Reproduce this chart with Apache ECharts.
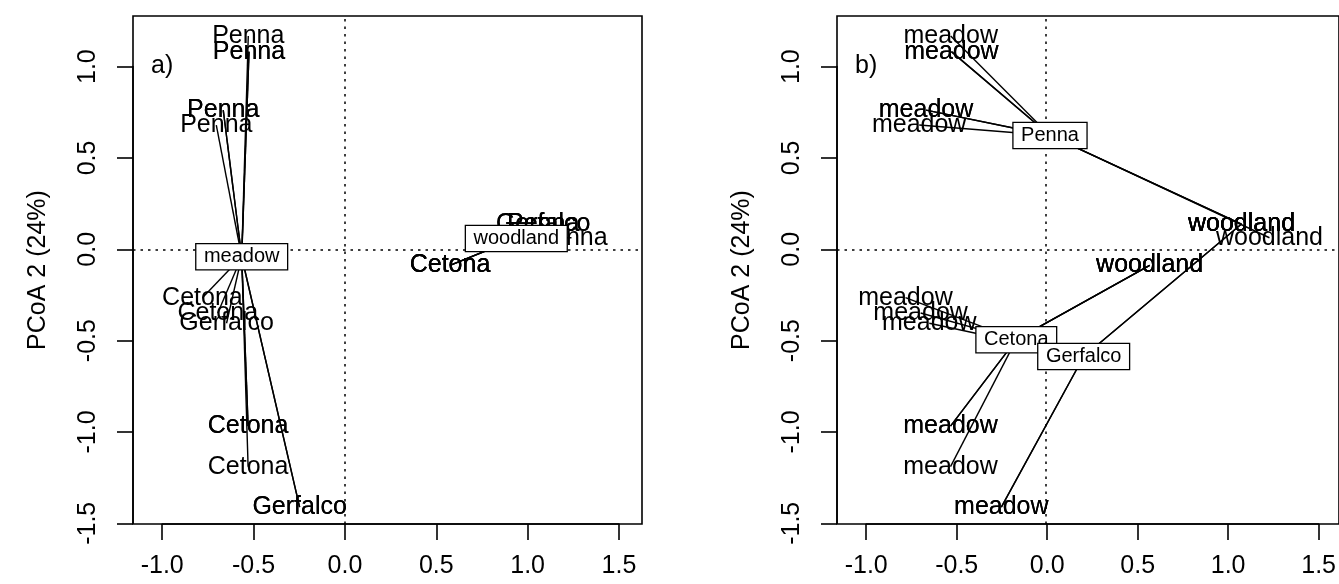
<!DOCTYPE html>
<html><head><meta charset="utf-8">
<script src="https://cdn.jsdelivr.net/npm/echarts@6/dist/echarts.min.js"></script>
<style>html,body{margin:0;padding:0;background:#fff}#c{width:1339px;height:584px}</style>
</head><body><div id="c"></div>
<script>
// ---- data ----
const siteX    = [-0.529,-0.525,-0.525,-0.666,-0.666,-0.704, -0.780,-0.696,-0.530,-0.530,-0.530, -0.648,-0.248,-0.248,
                  0.575,0.575,0.575, 1.085,1.085,1.240, 1.085,1.085];
const siteY    = [1.167,1.082,1.082,0.762,0.762,0.680, -0.265,-0.349,-0.968,-0.968,-1.190, -0.405,-1.412,-1.412,
                  -0.088,-0.088,-0.088, 0.138,0.138,0.063, 0.138,0.138];
const siteName = ['Penna','Penna','Penna','Penna','Penna','Penna','Cetona','Cetona','Cetona','Cetona','Cetona','Gerfalco','Gerfalco','Gerfalco',
                  'Cetona','Cetona','Cetona','Penna','Penna','Penna','Gerfalco','Gerfalco'];
const habitat  = ['meadow','meadow','meadow','meadow','meadow','meadow','meadow','meadow','meadow','meadow','meadow','meadow','meadow','meadow',
                  'woodland','woodland','woodland','woodland','woodland','woodland','woodland','woodland'];
const habitatNames = ['meadow','woodland'];
const habitatCX = [-0.565, 0.938];
const habitatCY = [-0.041, 0.059];
const siteNames = ['Penna','Cetona','Gerfalco'];
const siteCX = [0.022,-0.165,0.209];
const siteCY = [0.623,-0.495,-0.587];
const xTicks = [-1.0,-0.5,0.0,0.5,1.0,1.5];
const yTicks = [-1.5,-1.0,-0.5,0.0,0.5,1.0];
const xlim = [-1.160, 1.626];
const ylim = [-1.504, 1.277];
const yTitle = 'PCoA 2 (24%)';
const panelTags = ['a)','b)'];

// ---- layout ----
const FONT = "'Liberation Sans', Arial, Helvetica, sans-serif";
const panelLeft = [133, 837], T = 16, W = 509, H = 508;
const xr = xlim[1]-xlim[0], yr = ylim[1]-ylim[0];

const grids = [], xAxes = [], yAxes = [], series = [], graphics = [];
const pointIdx = siteX.map((_, i) => i);

panelLeft.forEach((L, p) => {
  const g0 = grids.length;
  // data grid (box)
  grids.push({left: L, top: T, width: W, height: H, show: true, borderColor: '#000', borderWidth: 1.6, backgroundColor: 'transparent'});
  xAxes.push({gridIndex: g0, type: 'value', min: xlim[0], max: xlim[1], show: false});
  yAxes.push({gridIndex: g0, type: 'value', min: ylim[0], max: ylim[1], show: true,
    axisLine: {show: false}, axisTick: {show: false}, axisLabel: {show: false}, splitLine: {show: false},
    name: yTitle, nameLocation: 'middle', nameRotate: 90, nameGap: 82,
    nameTextStyle: {fontSize: 25, color: '#000', fontFamily: FONT}});
  // x tick grid
  const xl = L + (xTicks[0]-xlim[0])/xr*W, xw = (xTicks[xTicks.length-1]-xTicks[0])/xr*W;
  grids.push({left: xl, top: T, width: xw, height: H});
  xAxes.push({gridIndex: g0+1, type: 'value', min: xTicks[0], max: xTicks[xTicks.length-1], interval: 0.5, position: 'bottom',
    axisLine: {show: true, onZero: false, lineStyle: {color: '#000', width: 1.6}},
    axisTick: {show: true, length: 16, lineStyle: {color: '#000', width: 1.6}},
    axisLabel: {show: true, margin: 30, fontSize: 25, color: '#000', fontFamily: FONT, interval: 0,
      formatter: v => xTicks.find(t => Math.abs(t-v) < 1e-9).toFixed(1)},
    splitLine: {show: false}});
  yAxes.push({gridIndex: g0+1, type: 'value', min: 0, max: 1, show: false});
  // y tick grid
  const yt = T + (ylim[1]-yTicks[yTicks.length-1])/yr*H, yh = (yTicks[yTicks.length-1]-yTicks[0])/yr*H;
  grids.push({left: L, top: yt, width: W, height: yh});
  xAxes.push({gridIndex: g0+2, type: 'value', min: 0, max: 1, show: false});
  yAxes.push({gridIndex: g0+2, type: 'value', min: yTicks[0], max: yTicks[yTicks.length-1], interval: 0.5, position: 'left',
    axisLine: {show: true, onZero: false, lineStyle: {color: '#000', width: 1.6}},
    axisTick: {show: true, length: 16, lineStyle: {color: '#000', width: 1.6}},
    axisLabel: {show: true, margin: 32, rotate: 90, fontSize: 25, color: '#000', fontFamily: FONT, interval: 0,
      formatter: v => yTicks.find(t => Math.abs(t-v) < 1e-9).toFixed(1)},
    splitLine: {show: false}});

  // dotted reference lines at 0
  series.push({type: 'lines', coordinateSystem: 'cartesian2d', xAxisIndex: g0, yAxisIndex: g0, z: 1, silent: true,
    lineStyle: {color: '#000', width: 1.5, type: [2.5, 5], opacity: 1},
    data: [{coords: [[0, ylim[0]], [0, ylim[1]]]}, {coords: [[xlim[0], 0], [xlim[1], 0]]}]});

  const labelOf = p === 0 ? siteName : habitat;
  const groupOf = p === 0 ? habitat : siteName;
  const cNames = p === 0 ? habitatNames : siteNames;
  const cX = p === 0 ? habitatCX : siteCX;
  const cY = p === 0 ? habitatCY : siteCY;

  // point labels
  series.push({type: 'scatter', xAxisIndex: g0, yAxisIndex: g0, z: 2, silent: true,
    symbolSize: 0.1, itemStyle: {color: 'rgba(0,0,0,0)', opacity: 1},
    label: {show: true, position: 'inside', formatter: '{b}', fontSize: 25, color: '#000', fontFamily: FONT, opacity: 1},
    data: pointIdx.map(i => ({name: labelOf[i], value: [siteX[i], siteY[i]]}))});

  // spider lines
  series.push({type: 'lines', coordinateSystem: 'cartesian2d', xAxisIndex: g0, yAxisIndex: g0, z: 3, silent: true,
    lineStyle: {color: '#000', width: 1.4, opacity: 1},
    data: pointIdx.map(i => {
      const k = cNames.indexOf(groupOf[i]);
      return {coords: [[cX[k], cY[k]], [siteX[i], siteY[i]]]};
    })});

  // centroid boxes
  cNames.forEach((n, k) => {
    series.push({type: 'scatter', xAxisIndex: g0, yAxisIndex: g0, z: 4 + k, silent: true,
      symbolSize: 0.1, itemStyle: {color: 'rgba(0,0,0,0)', opacity: 1},
      label: {show: true, position: 'inside', formatter: '{b}', fontSize: 20, lineHeight: 21, color: '#000', fontFamily: FONT, opacity: 1,
        backgroundColor: '#fff', borderColor: '#000', borderWidth: 1.3, padding: [2, 7.5, 2, 7.5]},
      data: [{name: n, value: [cX[k], cY[k]]}]});
  });

  graphics.push({type: 'text', left: L + 18, top: 54, z: 10,
    style: {text: panelTags[p], fontSize: 25, fontFamily: FONT, fill: '#000'}});
});

const chart = echarts.init(document.getElementById('c'), null, {renderer: 'canvas'});
chart.setOption({animation: false, backgroundColor: '#fff', grid: grids, xAxis: xAxes, yAxis: yAxes, series, graphic: graphics});
</script></body></html>
